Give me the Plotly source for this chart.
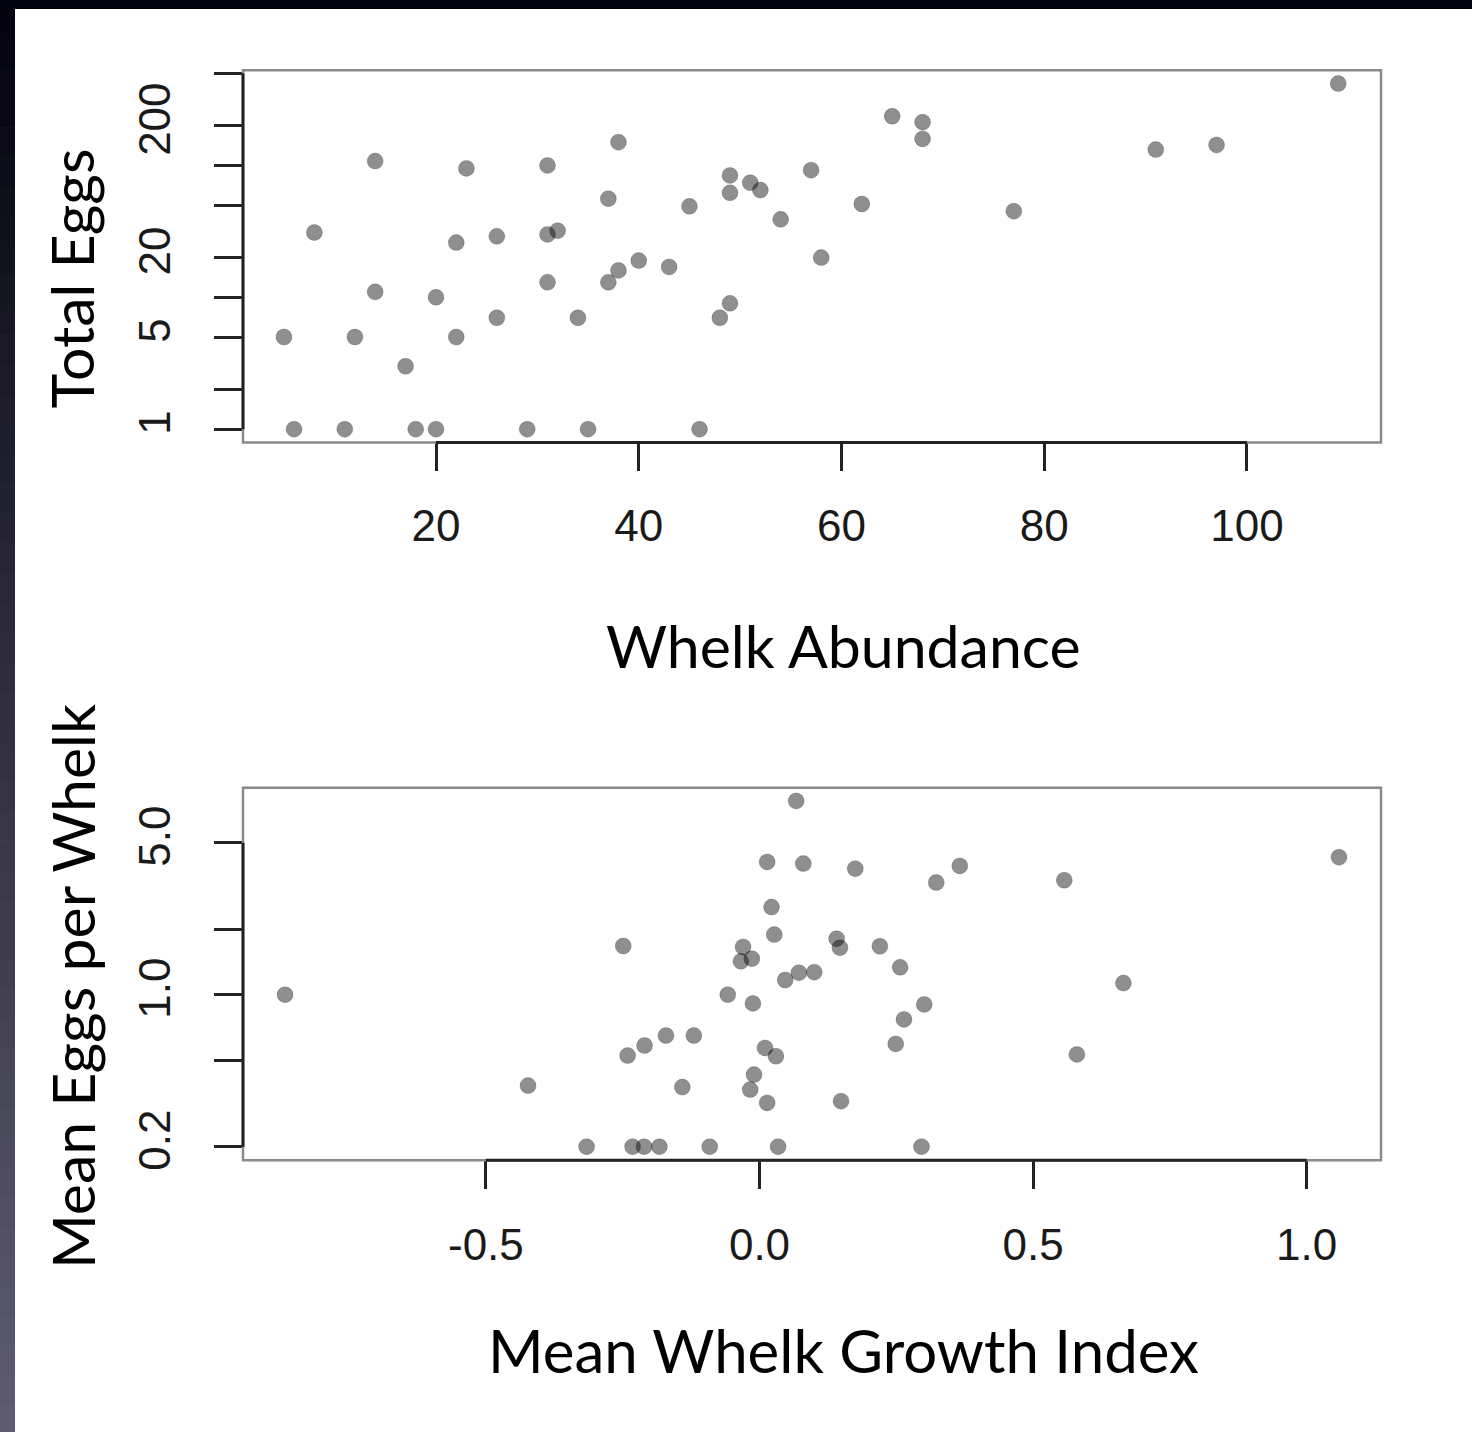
import plotly.graph_objects as go

# ---------------- data ----------------
abundance = [6, 11, 18, 20, 29, 35, 46, 5, 12, 22, 17, 14, 20, 26, 34, 31, 37, 38, 40, 43,
             8, 22, 26, 31, 32, 37, 14, 23, 31, 38, 45, 49, 49, 51, 52, 54, 57, 58, 62, 65,
             68, 68, 77, 49, 48, 91, 97, 109]
total_eggs = [1, 1, 1, 1, 1, 1, 1, 5, 5, 5, 3, 11, 10, 7, 7, 13, 13, 16, 19, 17,
              31, 26, 29, 30, 32, 56, 108, 95, 100, 150, 49, 84, 62, 74, 65, 39, 92, 20, 51, 236,
              213, 159, 45, 9, 7, 132, 143, 418]

growth_index = [-0.867, -0.249, -0.058, -0.171, -0.120, -0.210, -0.241, -0.423, -0.141, -0.316,
                -0.232, -0.211, -0.183, -0.091, 0.067, 0.014, 0.080, 0.175, 0.323, 0.366,
                0.022, 0.027, -0.030, -0.034, -0.014, 0.141, 0.147, 0.220, 0.257, 0.100,
                0.072, 0.047, -0.012, 0.301, 0.264, 0.249, 0.010, 0.030, -0.010, -0.017,
                0.014, 0.149, 0.034, 0.296, 0.557, 0.665, 0.580, 1.059]
mean_eggs = [1.0, 1.675, 1.0, 0.649, 0.649, 0.584, 0.525, 0.382, 0.376, 0.2,
             0.2, 0.2, 0.2, 0.2, 7.78, 4.08, 4.01, 3.80, 3.28, 3.91,
             2.53, 1.89, 1.657, 1.424, 1.464, 1.81, 1.645, 1.67, 1.336, 1.27,
             1.262, 1.168, 0.912, 0.902, 0.77, 0.594, 0.569, 0.521, 0.429, 0.366,
             0.318, 0.324, 0.2, 0.2, 3.36, 1.131, 0.531, 4.29]

top_x_ticks = [20, 40, 60, 80, 100]
top_y_ticks = [1, 2, 5, 10, 20, 50, 100, 200, 500]
top_y_labels = ["1", "", "5", "", "20", "", "", "200", ""]
bot_x_ticks = [-0.5, 0.0, 0.5, 1.0]
bot_x_labels = ["-0.5", "0.0", "0.5", "1.0"]
bot_y_ticks = [0.2, 0.5, 1.0, 2.0, 5.0]
bot_y_labels = ["0.2", "", "1.0", "", "5.0"]

W = 1472
H_REF = 1432       # layout measured in these pixel rows
H = 1445           # figure height that fills the captured page
TICKFONT = dict(family="Liberation Sans, Arial, sans-serif", size=44, color="#1a1a1a")
TITLEFONT = dict(family="Lato, sans-serif", size=59, color="#000000")
MARK = dict(size=16, color="rgba(0,0,0,0.44)", line=dict(width=1, color="rgba(0,0,0,0.18)"))


def py(p):
    """reference pixel row (from top) -> paper fraction"""
    return 1 - p / H_REF


fig = go.Figure()
fig.add_trace(go.Scatter(x=abundance, y=total_eggs, mode="markers", marker=MARK,
                         xaxis="x", yaxis="y", showlegend=False, cliponaxis=False))
fig.add_trace(go.Scatter(x=growth_index, y=mean_eggs, mode="markers", marker=MARK,
                         xaxis="x2", yaxis="y2", showlegend=False, cliponaxis=False))

common_axis = dict(showgrid=False, zeroline=False, showline=False, ticks="outside",
                   ticklen=28, tickwidth=2.5, tickcolor="#222222", tickfont=TICKFONT)

fig.update_layout(
    autosize=False, width=W, height=H, margin=dict(l=0, r=0, t=0, b=0),
    paper_bgcolor="white", plot_bgcolor="white",
    xaxis=dict(domain=[243 / W, 1381 / W], anchor="y", range=[0.962, 113.22],
               tickvals=top_x_ticks, ticklabelstandoff=17, **common_axis),
    yaxis=dict(domain=[py(441.5), py(70)], anchor="x", type="log",
               range=[-0.1003, 2.7226], tickvals=top_y_ticks, ticktext=top_y_labels,
               tickangle=-90, ticklabelstandoff=26, **common_axis),
    xaxis2=dict(domain=[243 / W, 1381 / W], anchor="y2", range=[-0.9439, 1.1358],
                tickvals=bot_x_ticks, ticktext=bot_x_labels, ticklabelstandoff=18, **common_axis),
    yaxis2=dict(domain=[py(1157.7), py(786)], anchor="x2", type="log",
                range=[-0.7608, 0.9522], tickvals=bot_y_ticks, ticktext=bot_y_labels,
                tickangle=-90, ticklabelstandoff=26, **common_axis),
)

shapes = []
# slide frame: dark top bar and left gradient strip
shapes.append(dict(type="rect", xref="paper", yref="paper", x0=0, x1=1, y0=py(9), y1=1,
                   fillcolor="#02030f", line=dict(width=0), layer="above"))
top_c = (2, 3, 15)
bot_c = (93, 92, 113)
n = 48
for i in range(n):
    f = (i + 0.5) / n
    c = tuple(int(round(top_c[k] + (bot_c[k] - top_c[k]) * f)) for k in range(3))
    y_top = 9 + (H_REF - 9) * i / n
    y_bot = 9 + (H_REF - 9) * (i + 1) / n
    shapes.append(dict(type="rect", xref="paper", yref="paper", x0=0, x1=15 / W,
                       y0=py(y_bot), y1=py(y_top) + 0.0005,
                       fillcolor="rgb(%d,%d,%d)" % c, line=dict(width=0), layer="above"))

# plot boxes
for xr, yr in (("x", "y"), ("x2", "y2")):
    shapes.append(dict(type="rect", xref=xr + " domain", yref=yr + " domain", x0=0, x1=1, y0=0, y1=1,
                       line=dict(color="#8a8a8a", width=2.5), layer="above"))
# axis lines between first and last ticks (R style)
shapes.append(dict(type="line", xref="x", yref="y domain", x0=top_x_ticks[0], x1=top_x_ticks[-1],
                   y0=0, y1=0, line=dict(color="#222222", width=3), layer="above"))
shapes.append(dict(type="line", xref="x domain", yref="y", x0=0, x1=0,
                   y0=top_y_ticks[0], y1=top_y_ticks[-1],
                   line=dict(color="#222222", width=3), layer="above"))
shapes.append(dict(type="line", xref="x2", yref="y2 domain", x0=bot_x_ticks[0], x1=bot_x_ticks[-1],
                   y0=0, y1=0, line=dict(color="#222222", width=3), layer="above"))
shapes.append(dict(type="line", xref="x2 domain", yref="y2", x0=0, x1=0,
                   y0=bot_y_ticks[0], y1=bot_y_ticks[-1],
                   line=dict(color="#222222", width=3), layer="above"))
fig.update_layout(shapes=shapes)

annotations = [
    dict(text="Whelk Abundance", x=843 / W, y=py(644), size=59),
    dict(text="Mean Whelk Growth Index", x=843 / W, y=py(1347), size=60),
    dict(text="Total Eggs", x=72 / W, y=py(278), textangle=-90, size=59),
    dict(text="Mean Eggs per Whelk", x=72 / W, y=py(985), textangle=-90, size=59),
]
for a in annotations:
    s = a.pop("size")
    a.update(xref="paper", yref="paper", showarrow=False, font=dict(TITLEFONT, size=s),
             xanchor="center", yanchor="middle")
fig.update_layout(annotations=annotations)

fig.write_html("out.html", config={"responsive": False})
